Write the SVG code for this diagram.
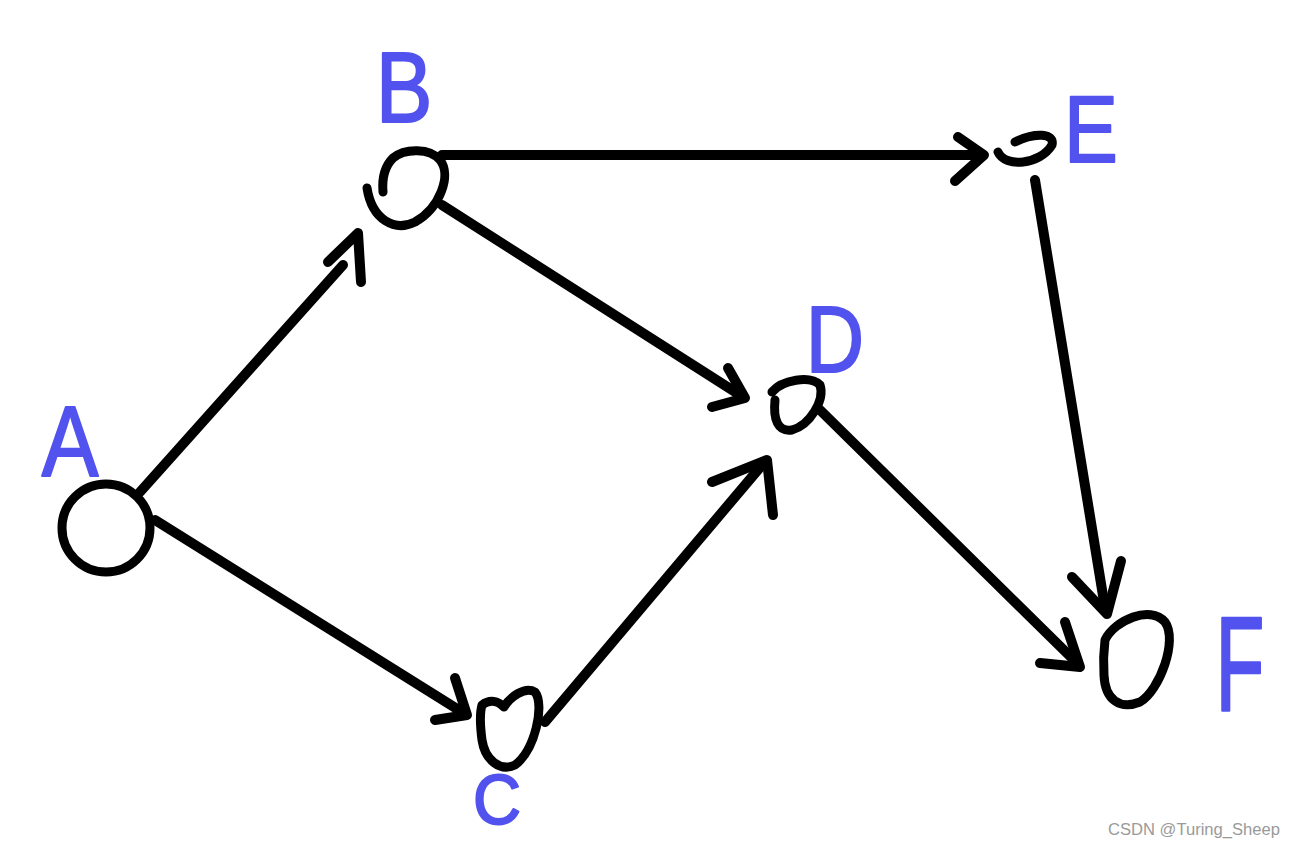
<svg xmlns="http://www.w3.org/2000/svg" width="1295" height="848" viewBox="0 0 1295 848">
<style>
.ln{fill:none;stroke:#000;stroke-width:10;stroke-linecap:round;stroke-linejoin:round}
.nd{fill:none;stroke:#000;stroke-width:9;stroke-linecap:round;stroke-linejoin:round}
.lb{font-family:"Liberation Sans",Arial,sans-serif;fill:#5252ee;stroke:#5252ee;stroke-width:2;stroke-linejoin:round;text-anchor:middle}
.wm{font-family:"Liberation Sans",Arial,sans-serif;fill:#9a9a9a;font-size:16px}
</style>
<rect width="1295" height="848" fill="#fff"/>
<g id="connectors">
  <g id="e-AB"><path class="ln" d="M140,492 L343,265"/><path class="ln" d="M328,262 L358,233 L361,282"/></g>
  <g id="e-AC"><path class="ln" d="M155,520 L462,712"/><path class="ln" d="M455,678 L467,715 L435,720"/></g>
  <g id="e-BE"><path class="ln" d="M442,155 L980,155"/><path class="ln" d="M958,137 L984,155 L955,181"/></g>
  <g id="e-BD"><path class="ln" d="M442,205 L740,395"/><path class="ln" d="M728,368 L745,398 L712,407"/></g>
  <g id="e-CD"><path class="ln" d="M545,722 L762,465"/><path class="ln" d="M712,482 L767,460 L773,515"/></g>
  <g id="e-DF"><path class="ln" d="M820,410 L1076,662"/><path class="ln" d="M1065,622 L1080,667 L1040,663"/></g>
  <g id="e-EF"><path class="ln" d="M1035,180 L1105,608"/><path class="ln" d="M1072,577 L1107,614 L1121,561"/></g>
</g>
<g id="node-A">
  <circle class="nd" cx="106" cy="528" r="44"/>
  <text class="lb" transform="translate(70,476) scale(0.85,1)" font-size="100">A</text>
</g>
<g id="node-B">
  <path class="nd" d="M367,188 C372,220 395,232 415,222 C440,208 452,175 440,160 C430,148 405,148 393,158 C383,168 382,180 383,192"/>
  <text class="lb" transform="translate(404,122) scale(0.85,1)" font-size="100">B</text>
</g>
<g id="node-E">
  <path class="nd" d="M998,152 C1005,168 1040,165 1052,145 C1055,133 1035,132 1015,142"/>
  <text class="lb" transform="translate(1091,162) scale(0.85,1)" font-size="95">E</text>
</g>
<g id="node-D">
  <path class="nd" d="M772,392 C782,380 810,375 820,385 C825,400 810,425 792,430 C778,432 773,420 775,400"/>
  <text class="lb" transform="translate(835,372) scale(0.85,1)" font-size="95">D</text>
</g>
<g id="node-C">
  <path class="nd" d="M482,705 C490,699 498,701 504,707 C510,697 525,686 535,692 C545,705 535,750 515,765 C500,772 485,760 482,740 C480,725 480,712 482,705"/>
  <text class="lb" transform="translate(497,824) scale(0.95,1)" font-size="70">C</text>
</g>
<g id="node-F">
  <path class="nd" d="M1105,640 C1115,620 1150,605 1165,622 C1178,640 1160,690 1140,702 C1120,710 1105,700 1104,675 C1103,660 1104,648 1105,640"/>
  <text class="lb" transform="translate(1240,710) scale(0.8,1.33)" font-size="100">F</text>
</g>
<text class="wm" x="1108" y="835" textLength="172" lengthAdjust="spacingAndGlyphs">CSDN @Turing_Sheep</text>
</svg>
